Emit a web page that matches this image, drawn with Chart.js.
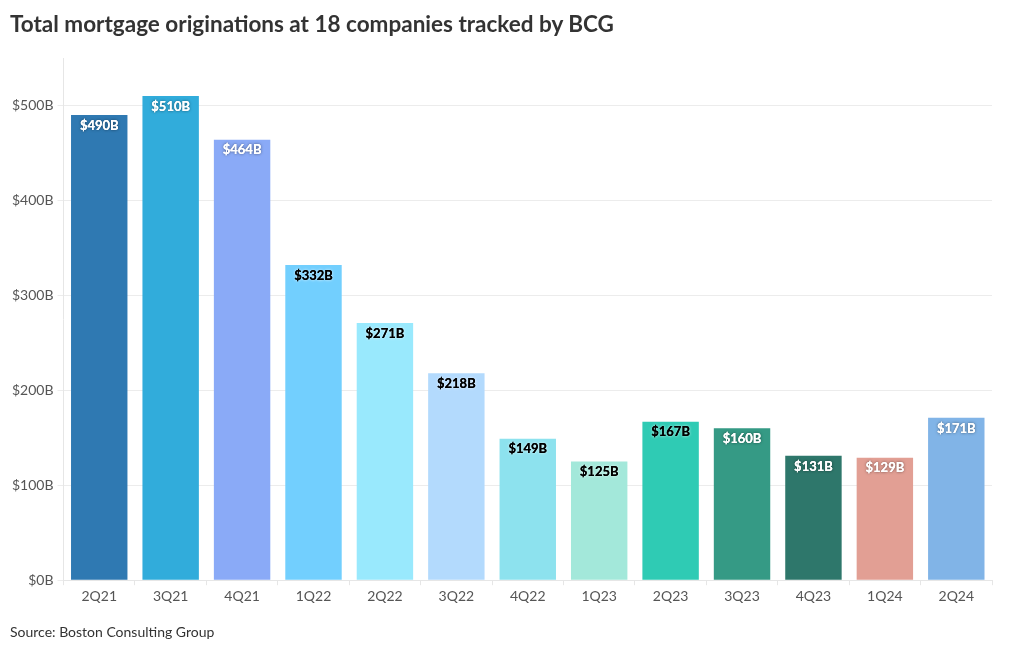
<!DOCTYPE html>
<html>
<head>
<meta charset="utf-8">
<script src="https://cdn.jsdelivr.net/npm/chart.js@4.4.1/dist/chart.umd.min.js"></script>
<style>
  html, body { margin: 0; padding: 0; background: #fff; }
  body { width: 1020px; height: 650px; position: relative; overflow: hidden; font-family: Lato, 'Open Sans', sans-serif; }
  #title { position: absolute; left: 10px; top: 10px; font-size: 22.5px; font-weight: 700; color: #333; }
  #source { position: absolute; left: 10px; top: 623px; font-size: 14px; color: #333; }
  #wrap { position: absolute; left: 0; top: 0; width: 1020px; height: 650px; }
</style>
</head>
<body>
<div id="wrap"><canvas id="chart"></canvas></div>
<div id="title">Total mortgage originations at 18 companies tracked by BCG</div>
<div id="source">Source: Boston Consulting Group</div>
<script>
const quarters = ['2Q21', '3Q21', '4Q21', '1Q22', '2Q22', '3Q22', '4Q22', '1Q23', '2Q23', '3Q23', '4Q23', '1Q24', '2Q24'];
const originations = [490, 510, 464, 332, 271, 218, 149, 125, 167, 160, 131, 129, 171];
const barColors = ['#2f79b2', '#31acdb', '#8aaaf7', '#72cffe', '#99e9fd', '#b3dafd', '#8de2ee',
                   '#a3e8da', '#2fcbb4', '#359a85', '#2e776b', '#e29f94', '#81b4e7'];
const darkLabel = [false, false, false, true, true, true, true, true, true, false, false, false, false];
const yTicks = [0, 100, 200, 300, 400, 500];

// value labels drawn at the top of each bar
const barLabels = {
  id: 'barLabels',
  afterDatasetsDraw(chart) {
    const ctx = chart.ctx;
    const meta = chart.getDatasetMeta(0);
    ctx.save();
    ctx.font = '700 13px Lato, sans-serif';
    ctx.textAlign = 'center';
    ctx.textBaseline = 'middle';
    meta.data.forEach((bar, i) => {
      const txt = '$' + originations[i] + 'B';
      const y = bar.y + 10.5;
      ctx.shadowColor = darkLabel[i] ? 'rgba(255,255,255,0.9)' : 'rgba(0,0,0,0.55)';
      ctx.shadowBlur = 3;
      ctx.fillStyle = darkLabel[i] ? '#000' : '#fff';
      ctx.fillText(txt, bar.x, y);
      ctx.shadowBlur = 0;
      ctx.fillText(txt, bar.x, y);
    });
    ctx.restore();
  }
};

new Chart(document.getElementById('chart'), {
  type: 'bar',
  data: {
    labels: quarters,
    datasets: [{
      data: originations,
      backgroundColor: barColors,
      borderWidth: 0,
      categoryPercentage: 1,
      barPercentage: 0.79
    }]
  },
  options: {
    responsive: true,
    maintainAspectRatio: false,
    animation: false,
    layout: { padding: { left: 8, right: 28, top: 58, bottom: 42 } },
    plugins: {
      legend: { display: false },
      tooltip: { enabled: false }
    },
    scales: {
      x: {
        grid: { drawOnChartArea: false, drawTicks: true, tickLength: 5, color: '#e6e6e6' },
        border: { color: '#e6e6e6' },
        ticks: { color: '#555', font: { family: 'Lato', size: 14 }, padding: 3 }
      },
      y: {
        min: 0,
        max: 550,
        afterBuildTicks: axis => { axis.ticks = yTicks.map(v => ({ value: v })); },
        grid: { color: '#ececec', tickLength: 6 },
        border: { color: '#e6e6e6' },
        ticks: {
          color: '#555',
          font: { family: 'Lato', size: 14 },
          padding: 4,
          callback: v => '$' + v + 'B'
        }
      }
    }
  },
  plugins: [barLabels]
});
</script>
</body>
</html>
